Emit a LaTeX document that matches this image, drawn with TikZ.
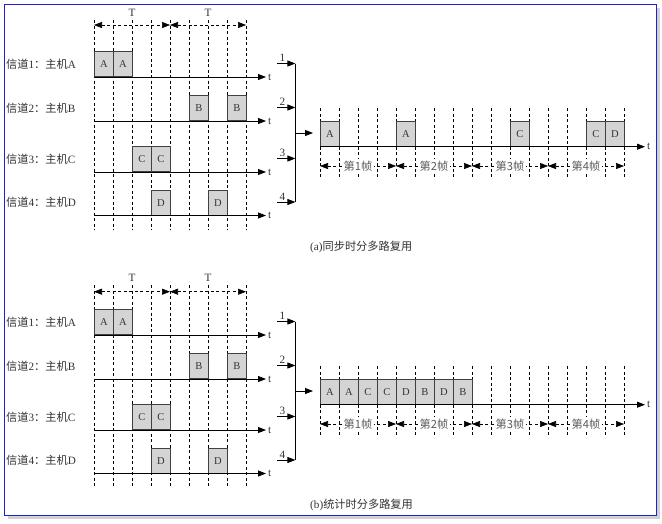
\documentclass[tikz,border=0pt]{standalone}
\usepackage{fontspec}
\setmainfont{Liberation Serif}
\newfontfamily\cjk{Noto Sans CJK SC}
\usepackage{xcolor}
\usepackage{tikz}
\usetikzlibrary{arrows.meta}
\definecolor{slotgray}{RGB}{212,212,212}
\definecolor{edgeblue}{RGB}{34,34,204}
\tikzset{
  slot/.style={draw=black!75, line width=0.8pt, fill=slotgray, minimum width=19pt, minimum height=25pt,
    inner sep=0pt, anchor=south west, text=black!80, font=\fontsize{10.5}{12}\selectfont},
  grid/.style={dash pattern=on 3pt off 2.5pt, line width=0.6pt},
  axis/.style={line width=0.8pt, -{Triangle[length=8pt,width=6pt]}},
  span/.style={dash pattern=on 3pt off 2.5pt, line width=0.6pt,
    {Triangle[length=8pt,width=6pt]}-{Triangle[length=8pt,width=6pt]}},
  lbl/.style={font=\fontsize{11.2}{13}\selectfont, text=black!80},
}
\begin{document}
\begin{tikzpicture}[x=1pt,y=-1pt]
\useasboundingbox (0,0) rectangle (662,523);
% outer frame
\fill[black!18] (7.5,7.5) rectangle (659.5,518.5);
\draw[edgeblue, line width=1.3pt, fill=white] (4.5,4.5) rectangle (656.5,515.5);

\foreach \p/\dy/\ty/\tl/\gtop/\frm/\cap in {
  a/0/25/13/20/{0/A,4/A,10/C,14/C,15/D}/{(a)\cjk 同步时分多路复用},
  b/258/33.7/19.5/27/{0/A,1/A,2/C,3/C,4/D,5/B,6/D,7/B}/{(b)\cjk 统计时分多路复用}}{
\begin{scope}[yshift=-\dy pt]
% channel time grid
\foreach \i in {0,...,8}
  \draw[grid] (94+19*\i,\gtop) -- (94+19*\i,230);
\coordinate (\p-t0) at (94,\ty);
\coordinate (\p-t1) at (170,\ty);
\coordinate (\p-t2) at (246,\ty);
\draw[span] (\p-t0) -- (\p-t1);
\draw[span] (\p-t1) -- (\p-t2);
\node[lbl] (\p-T1) at (132,\tl) {T};
\node[lbl] (\p-T2) at (208,\tl) {T};

% channels
\foreach \c/\y/\h/\s in {1/77/A/{0/A,1/A}, 2/121/B/{5/B,7/B}, 3/172/C/{2/C,3/C}, 4/215.5/D/{3/D,6/D}}{
  \node[lbl, anchor=west, inner sep=0pt] (\p-ch\c) at (6,\y-13) {{\cjk 信道}\c{\cjk ：主机}\h};
  \foreach \k/\l in \s
    \node[slot] (\p-s\c-\k) at (94+19*\k,\y) {\l};
  \coordinate (\p-a\c) at (94,\y);
  \coordinate (\p-e\c) at (266,\y);
  \draw[axis] (\p-a\c) -- (\p-e\c);
  \node[lbl, anchor=west, inner sep=2pt] (\p-tt\c) at (\p-e\c) {t};
  \coordinate (\p-in\c) at (277,\y-13.5);
  \coordinate (\p-m\c) at (295.4,\y-13.5);
  \draw[axis] (\p-in\c) -- node[lbl, above, pos=0.3, inner sep=1.5pt] {\c} (\p-m\c);
}
% multiplexer
\draw[line width=0.8pt] (\p-m1) -- (\p-m4);
\coordinate (\p-mo) at (295,133);
\coordinate (\p-mx) at (313,133);
\draw[axis] (\p-mo) -- (\p-mx);

% frame line
\foreach \i in {0,...,16}
  \draw[grid] (320+19*\i,108.3) -- (320+19*\i,176.7);
\foreach \k/\l in \frm
  \node[slot] (\p-f\k) at (320+19*\k,146.7) {\l};
\coordinate (\p-fa) at (320,146.7);
\coordinate (\p-fe) at (645,146.7);
\draw[axis] (\p-fa) -- (\p-fe);
\node[lbl, anchor=west, inner sep=2pt] (\p-ft) at (\p-fe) {t};
\foreach \j in {0,...,4}
  \coordinate (\p-g\j) at (320+76*\j,166);
\foreach \j [evaluate=\j as \q using int(\j-1)] in {1,...,4}
  \draw[span] (\p-g\q) -- node[lbl, fill=white, inner sep=2pt, text=black!65] {\cjk 第\j 帧} (\p-g\j);

\node[lbl, anchor=west, inner sep=0pt] (\p-cap) at (310,247) {\cap};
\end{scope}
}
\end{tikzpicture}
\end{document}
